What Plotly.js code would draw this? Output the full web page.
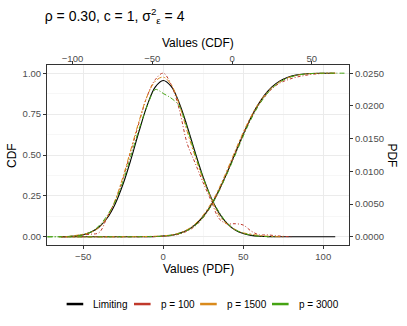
<!DOCTYPE html>
<html>
<head>
<meta charset="utf-8">
<script src="https://cdn.plot.ly/plotly-3.0.1.min.js"></script>
<style>
  body { margin: 0; background: #fff; }
  #chart { width: 407px; height: 326px; }
</style>
</head>
<body>
<div id="chart"></div>
<script>
// densities, read against the bottom axis (Values (PDF)) and the right axis
const pdfLimX = [-64, -60, -55, -50, -45, -40, -35, -30, -25, -20, -15, -10, -5, 0, 5, 10, 15, 20, 25, 30, 35, 40, 45, 50, 55, 60, 65, 70, 75, 80, 85, 95, 107.5]
const pdfLimY = [0.00002, 0.000048, 0.000128, 0.000315, 0.000718, 0.0015, 0.00287, 0.00503, 0.0081, 0.01195, 0.01618, 0.02008, 0.02286, 0.02388, 0.02298, 0.02045, 0.01688, 0.01288, 0.0091, 0.00595, 0.0036, 0.00203, 0.00105, 0.0005, 0.000225, 0.00009, 0.000035, 0.000013, 0.000005, 0.000002, 0, 0, 0]

const pdf100X = [-65, -60, -55, -50, -45, -40, -35, -30, -25, -20, -15, -10, -5, 0, 5, 10, 15, 20, 25, 30, 35, 40, 45, 50, 55, 60, 65, 70, 75, 80]
const pdf100Y = [0, 0.000025, 0.0001, 0.0003, 0.0004, 0.00065, 0.003, 0.0055, 0.009, 0.01325, 0.0175, 0.0215, 0.024, 0.025, 0.02325, 0.0195, 0.01425, 0.01125, 0.00825, 0.0055, 0.00275, 0.002, 0.002, 0.0018, 0.000875, 0.0003, 0.0003, 0.000175, 0.000075, 0]

const pdf1500X = [-65, -60, -55, -50, -45, -40, -35, -30, -25, -20, -15, -10, -5, 0, 5, 10, 15, 20, 25, 30, 35, 40, 45, 50, 55, 60, 65, 70, 75]
const pdf1500Y = [0, 0.00005, 0.0002, 0.0004, 0.0007, 0.00145, 0.003, 0.0056, 0.00925, 0.0135, 0.01775, 0.0215, 0.02375, 0.0244, 0.02325, 0.02025, 0.0161, 0.01225, 0.00875, 0.0059, 0.00325, 0.0019, 0.0011, 0.0006, 0.0004, 0.0002, 0.0001, 0.00003, 0]

const pdf3000X = [-72, -65, -60, -55, -50, -45, -40, -35, -30, -25, -20, -15, -10, -5, -2, 0, 3, 6, 10, 15, 20, 25, 30, 35, 40, 45, 50, 55, 60, 65, 70]
const pdf3000Y = [0, 0.000025, 0.00005, 0.000125, 0.0003, 0.00075, 0.0017, 0.00325, 0.0054, 0.0085, 0.0125, 0.0165, 0.02, 0.0225, 0.02225, 0.0219, 0.0215, 0.021, 0.02, 0.0166, 0.0126, 0.009, 0.006, 0.00375, 0.0021, 0.0011, 0.00055, 0.00025, 0.0001, 0.000025, 0]

// distribution functions, read against the top axis (Values (CDF)) and the left axis
const cdfLimX = [-107, -90, -80, -70, -60, -50, -45, -40, -35, -30, -25, -20, -15, -10, -5, 0, 5, 10, 15, 20, 25, 30, 35, 40, 45, 50, 55, 60, 64.5]
const cdfLimY = [0, 0, 0, 0.00001, 0.00015, 0.0012, 0.0031, 0.0074, 0.0159, 0.0319, 0.0595, 0.103, 0.1658, 0.2494, 0.3512, 0.465, 0.5815, 0.6915, 0.7864, 0.8617, 0.9165, 0.9531, 0.9756, 0.9882, 0.9948, 0.9978, 0.9992, 0.9997, 1]

const cdf100X = [-107, -80, -60, -50, -45, -40, -35, -30, -25, -20, -15, -10, -5, 0, 5, 10, 15, 20, 25, 30, 35, 40, 45, 50, 55, 60, 65]
const cdf100Y = [0, 0, 0, 0.001, 0.002, 0.005, 0.012, 0.027, 0.052, 0.095, 0.16, 0.245, 0.35, 0.465, 0.58, 0.69, 0.78, 0.85, 0.905, 0.94, 0.96, 0.975, 0.985, 0.993, 0.997, 0.999, 1]

const cdf1500X = [-107, -80, -60, -50, -45, -40, -35, -30, -25, -20, -15, -10, -5, 0, 5, 10, 15, 20, 25, 30, 35, 40, 45, 50, 55, 60, 65]
const cdf1500Y = [0, 0, 0.001, 0.003, 0.005, 0.009, 0.018, 0.034, 0.064, 0.11, 0.175, 0.26, 0.365, 0.48, 0.595, 0.7, 0.79, 0.86, 0.912, 0.948, 0.972, 0.986, 0.994, 0.998, 0.999, 1, 1]

const cdf3000X = [-116, -80, -60, -50, -45, -40, -35, -30, -25, -20, -15, -10, -5, 0, 5, 10, 15, 20, 25, 30, 35, 40, 45, 50, 55, 60, 65, 71]
const cdf3000Y = [0, 0, 0.0002, 0.0015, 0.003, 0.007, 0.015, 0.03, 0.056, 0.098, 0.16, 0.243, 0.345, 0.455, 0.57, 0.68, 0.775, 0.85, 0.908, 0.946, 0.971, 0.986, 0.994, 0.998, 0.9995, 1, 1, 1]

const seriesNames = ['Limiting', 'p = 100', 'p = 1500', 'p = 3000']
const seriesColors = ['#000000', '#C0392B', '#D98A1C', '#45A313']
const seriesDash = ['solid', '1px,2px,3px,2px', '2px,2px,5px,2px', '5px,2px,1px,2px']

const FONT = 'Liberation Sans, Arial, Helvetica, sans-serif'

const lineTrace = (x, y, i, xa, ya) => ({
  x: x,
  y: y,
  xaxis: xa,
  yaxis: ya,
  type: 'scatter',
  mode: 'lines',
  line: { color: seriesColors[i], dash: seriesDash[i], width: i === 0 ? 1.1 : 1, shape: 'spline' },
  showlegend: false,
  hoverinfo: 'skip',
})

const pdfs = [[pdfLimX, pdfLimY], [pdf100X, pdf100Y], [pdf1500X, pdf1500Y], [pdf3000X, pdf3000Y]]
const cdfs = [[cdfLimX, cdfLimY], [cdf100X, cdf100Y], [cdf1500X, cdf1500Y], [cdf3000X, cdf3000Y]]

// empty trace so the base x/y subplot exists for the overlays
const traces = [{ x: [], y: [], xaxis: 'x', yaxis: 'y', type: 'scatter', mode: 'lines', showlegend: false }]
pdfs.forEach((d, i) => traces.push(lineTrace(d[0], d[1], i, 'x', 'y2')))
cdfs.forEach((d, i) => traces.push(lineTrace(d[0], d[1], i, 'x2', 'y')))

// ggplot-style legend under the panel: short solid keys + labels
const legendY = -0.328
const legendKeyX = [0.065, 0.288, 0.507, 0.745]
const shapes = []
const legendLabels = []
seriesNames.forEach((name, i) => {
  shapes.push({
    type: 'line', xref: 'paper', yref: 'paper',
    x0: legendKeyX[i], x1: legendKeyX[i] + 0.055, y0: legendY, y1: legendY,
    line: { color: seriesColors[i], width: 2.5 },
  })
  legendLabels.push({
    text: name, xref: 'paper', yref: 'paper',
    x: legendKeyX[i] + 0.082, y: legendY, xanchor: 'left', yanchor: 'middle',
    showarrow: false, font: { family: FONT, size: 10, color: '#000' },
  })
})

const tickFont = { family: FONT, size: 9.5, color: '#4D4D4D' }
const titleFont = { family: FONT, size: 12, color: '#000' }
const axisBase = {
  showline: true,
  linecolor: '#333333',
  linewidth: 1,
  ticks: 'outside',
  ticklen: 3,
  tickcolor: '#333333',
  tickfont: tickFont,
  zeroline: false,
  automargin: false,
}

const layout = {
  width: 407,
  height: 326,
  margin: { l: 47, r: 58, t: 65, b: 81 },
  paper_bgcolor: '#fff',
  plot_bgcolor: '#fff',
  showlegend: false,
  title: {
    text: 'ρ = 0.30, c = 1, σ<sup>2</sup><sub>ε</sub> = 4',
    font: { family: FONT, size: 14, color: '#000' },
    xref: 'container',
    x: 0.11,
    xanchor: 'left',
    yref: 'container',
    y: 0.951,
    yanchor: 'middle',
  },
  xaxis: Object.assign({}, axisBase, {
    range: [-72.6, 116.1],
    tickvals: [-50, 0, 50, 100],
    showgrid: true,
    gridcolor: '#EBEBEB',
    gridwidth: 1,
    minor: { tickvals: [-25, 25, 75], showgrid: true, gridcolor: '#F2F2F2', gridwidth: 0.6, ticks: '' },
  }),
  xaxis2: Object.assign({}, axisBase, {
    overlaying: 'x',
    side: 'top',
    anchor: 'y',
    range: [-116, 73.3],
    tickvals: [-100, -50, 0, 50],
    ticklabelstandoff: -5,
    showgrid: false,
  }),
  yaxis: Object.assign({}, axisBase, {
    range: [-0.05, 1.05],
    tickvals: [0, 0.25, 0.5, 0.75, 1],
    tickformat: '.2f',
    showgrid: true,
    gridcolor: '#EBEBEB',
    gridwidth: 1,
    minor: { tickvals: [0.125, 0.375, 0.625, 0.875], showgrid: true, gridcolor: '#F2F2F2', gridwidth: 0.6, ticks: '' },
  }),
  yaxis2: Object.assign({}, axisBase, {
    overlaying: 'y',
    side: 'right',
    anchor: 'x',
    range: [-0.00125, 0.02625],
    tickvals: [0, 0.005, 0.01, 0.015, 0.02, 0.025],
    tickformat: '.4f',
    showgrid: false,
  }),
  shapes: shapes,
  annotations: [
    { text: 'Values (PDF)', xref: 'paper', yref: 'paper', x: 0.5, y: -0.133, showarrow: false, font: titleFont, xanchor: 'center', yanchor: 'middle' },
    { text: 'Values (CDF)', xref: 'paper', yref: 'paper', x: 0.5, y: 1.124, showarrow: false, font: titleFont, xanchor: 'center', yanchor: 'middle' },
    { text: 'CDF', xref: 'paper', yref: 'paper', x: -0.116, y: 0.5, textangle: -90, showarrow: false, font: titleFont, xanchor: 'center', yanchor: 'middle' },
    { text: 'PDF', xref: 'paper', yref: 'paper', x: 1.141, y: 0.5, textangle: 90, showarrow: false, font: titleFont, xanchor: 'center', yanchor: 'middle' },
  ].concat(legendLabels),
}

try {
  Plotly.newPlot('chart', traces, layout, { staticPlot: true, displayModeBar: false })
} catch (e) {
  console.log('ERR', e)
}
</script>
</body>
</html>
